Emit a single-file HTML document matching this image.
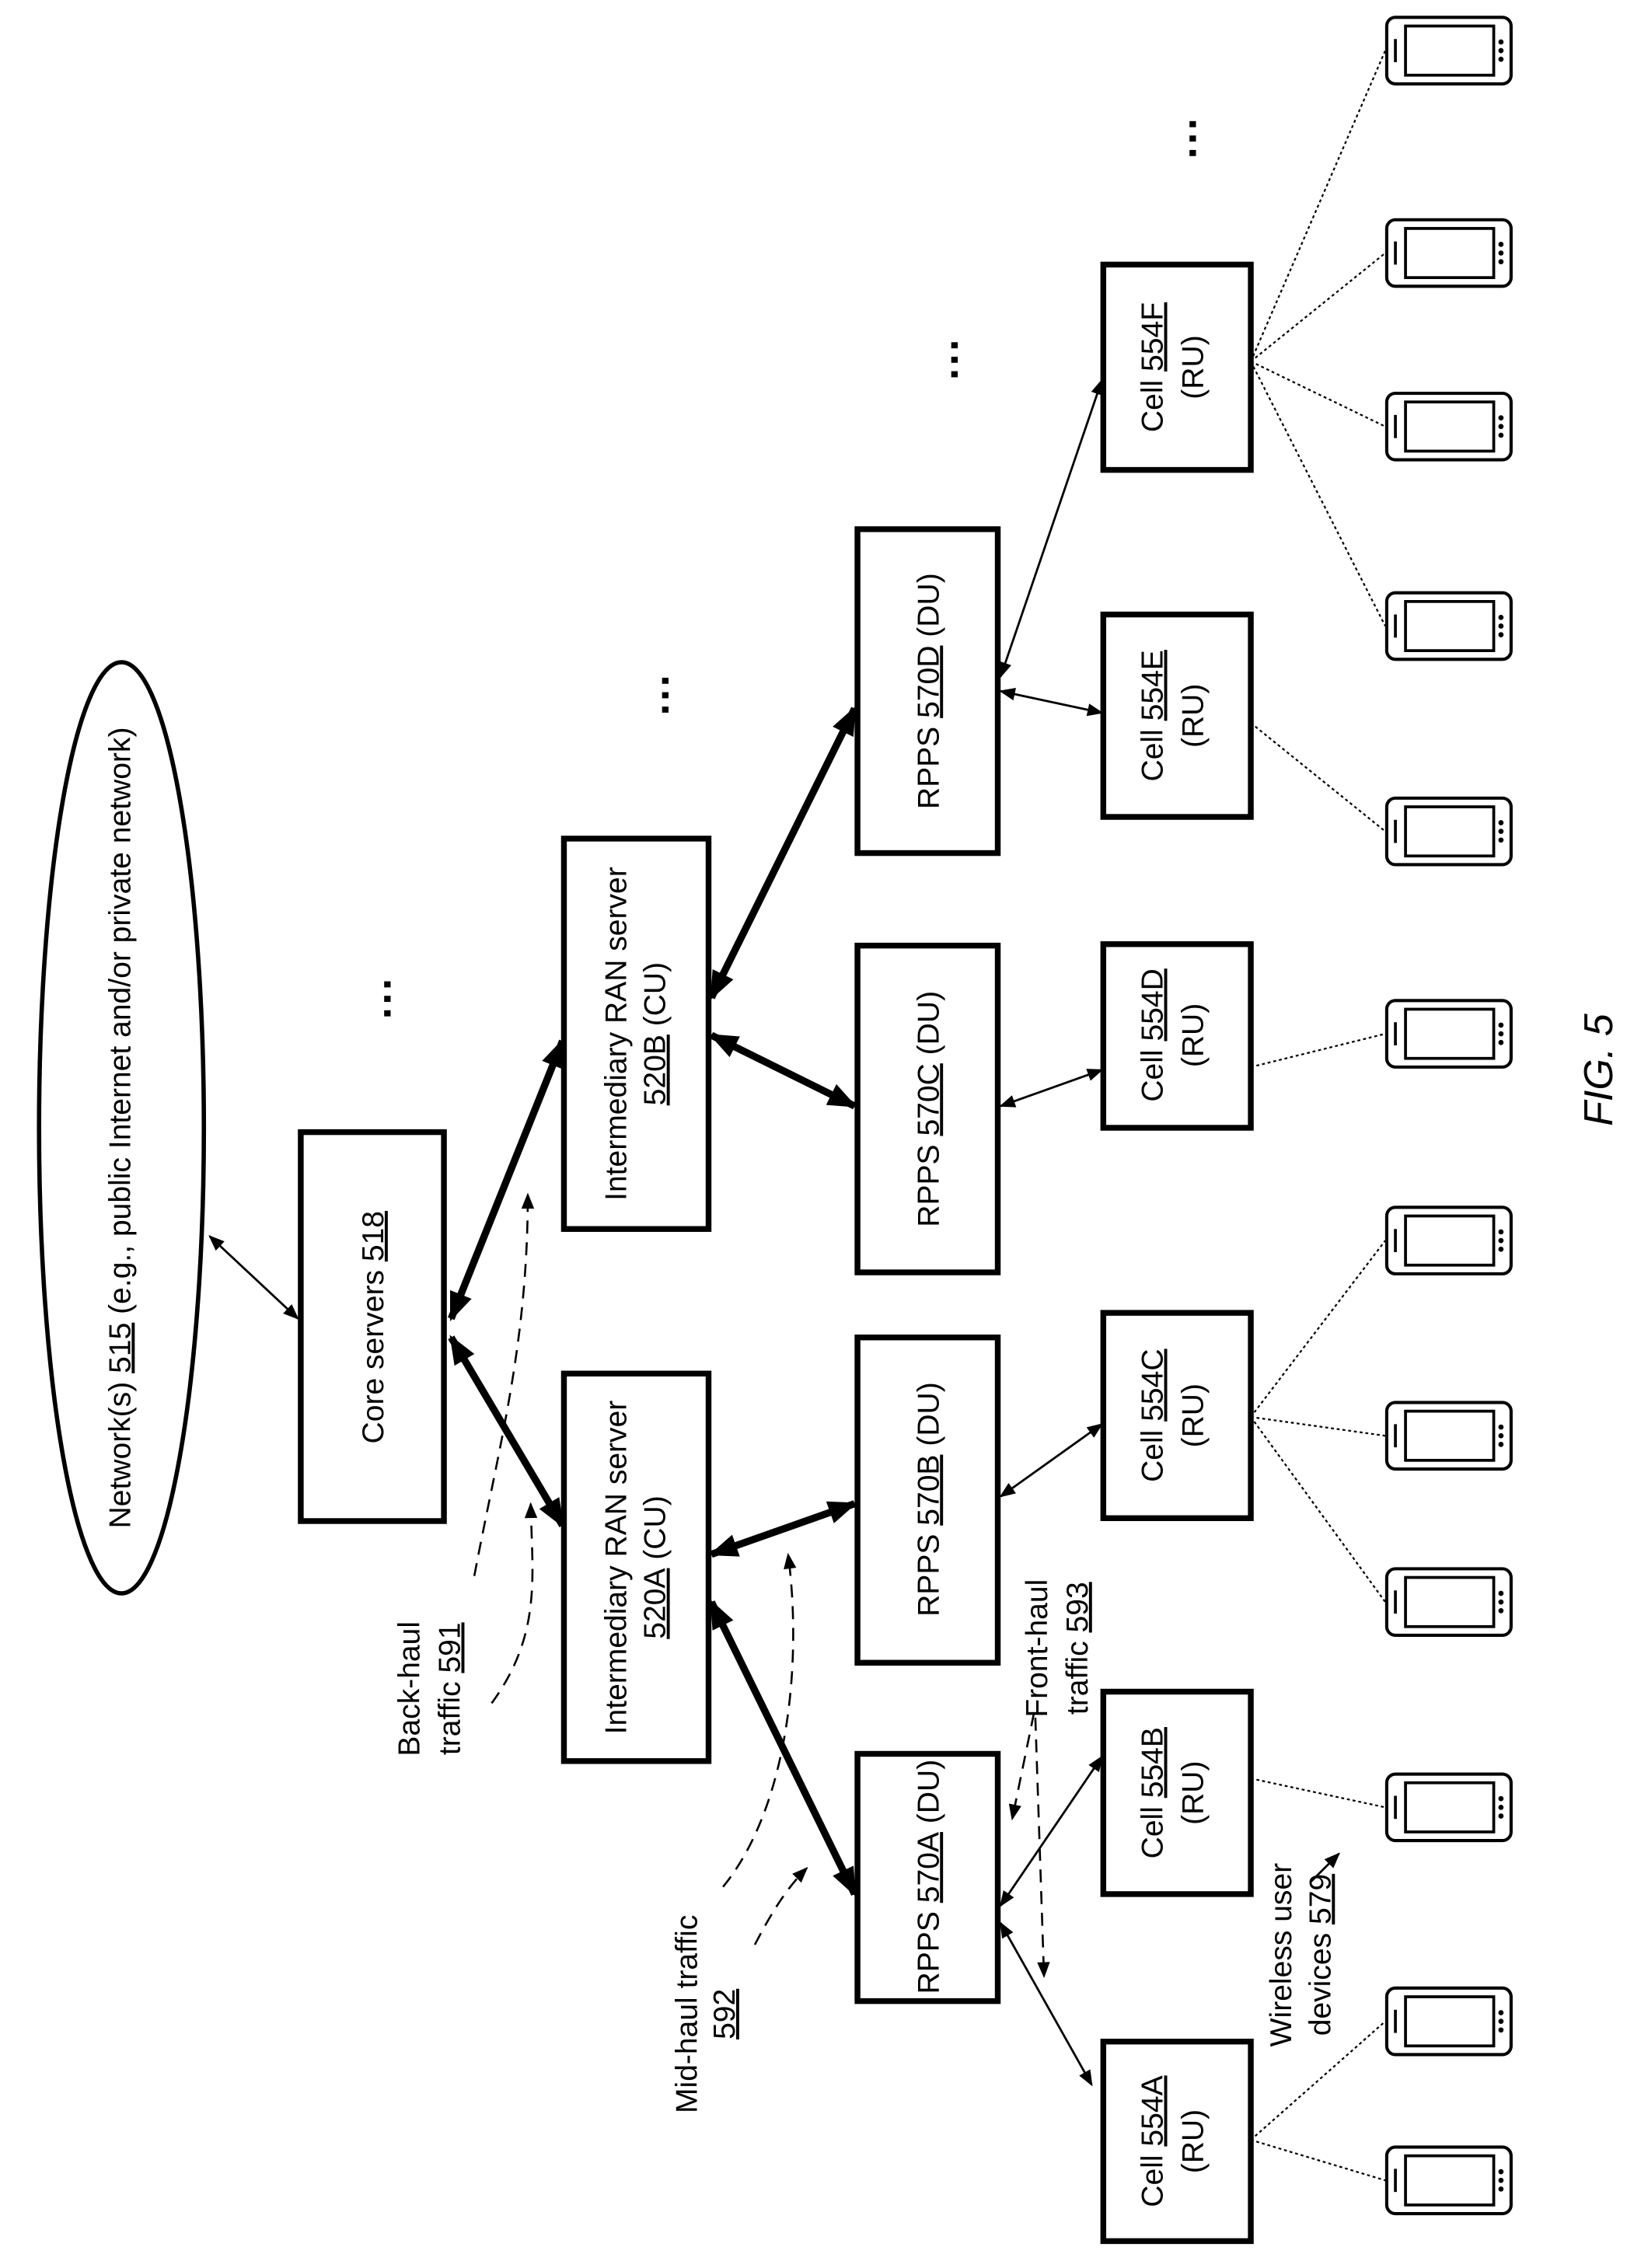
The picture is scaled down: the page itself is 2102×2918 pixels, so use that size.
<!DOCTYPE html>
<html><head><meta charset="utf-8"><style>html,body{margin:0;padding:0;background:#fff}svg{display:block}</style></head>
<body>
<svg width="2102" height="2918" viewBox="0 0 1130 1568.6" preserveAspectRatio="none" xmlns="http://www.w3.org/2000/svg" font-family="Liberation Sans, Arial, sans-serif">
<defs>
<marker id="b" viewBox="0 0 10 10" refX="9" refY="5" markerWidth="15" markerHeight="11" orient="auto-start-reverse" markerUnits="userSpaceOnUse"><path d="M0,1 L10,5 L0,9 z" fill="#000"/></marker>
<marker id="c" viewBox="0 0 10 10" refX="9" refY="5" markerWidth="27" markerHeight="20" orient="auto-start-reverse" markerUnits="userSpaceOnUse"><path d="M0,1 L10,5 L0,9 z" fill="#000"/></marker>
<g id="ph"><rect x="-43" y="-23" width="86" height="46" rx="6" fill="#fff" stroke="#000" stroke-width="2.2"/><rect x="-30" y="-17" width="61" height="34" fill="none" stroke="#000" stroke-width="2"/><line x1="-37" y1="-8" x2="-37" y2="8" stroke="#000" stroke-width="2"/><circle cx="36" cy="-6" r="1.8"/><circle cx="36" cy="0" r="1.8"/><circle cx="36" cy="6" r="1.8"/></g>
</defs>
<g fill="none" stroke="#000">
<ellipse cx="84" cy="780" rx="57" ry="322" stroke-width="3"/>
<g stroke-width="4">
<rect x="208" y="783" width="99" height="269"/>
<rect x="390" y="950" width="100" height="268"/>
<rect x="390" y="580" width="100" height="270"/>
<rect x="593" y="1213" width="97" height="171"/>
<rect x="593" y="925" width="97" height="225"/>
<rect x="593" y="654" width="97" height="226"/>
<rect x="593" y="366" width="97" height="224"/>
<rect x="763" y="1412" width="102" height="138"/>
<rect x="763" y="1170" width="102" height="140"/>
<rect x="763" y="908" width="102" height="142"/>
<rect x="763" y="653" width="102" height="127"/>
<rect x="763" y="425" width="102" height="140"/>
<rect x="763" y="183" width="102" height="142"/>
</g>
<line x1="145" y1="855" x2="206" y2="912" stroke-width="1.5" marker-start="url(#b)" marker-end="url(#b)"/>
<g stroke-width="5">
<line x1="312" y1="912" x2="389" y2="720" marker-start="url(#c)" marker-end="url(#c)"/>
<line x1="312" y1="925" x2="389" y2="1055" marker-start="url(#c)" marker-end="url(#c)"/>
<line x1="492" y1="1108" x2="591" y2="1310" marker-start="url(#c)" marker-end="url(#c)"/>
<line x1="492" y1="1075" x2="591" y2="1040" marker-start="url(#c)" marker-end="url(#c)"/>
<line x1="492" y1="716" x2="591" y2="765" marker-start="url(#c)" marker-end="url(#c)"/>
<line x1="492" y1="690" x2="591" y2="490" marker-start="url(#c)" marker-end="url(#c)"/>
</g>
<g stroke-width="1.5">
<line x1="692" y1="1318" x2="762" y2="1215" marker-start="url(#b)" marker-end="url(#b)"/>
<line x1="692" y1="1330" x2="755" y2="1442" marker-start="url(#b)" marker-end="url(#b)"/>
<line x1="692" y1="1035" x2="762" y2="985" marker-start="url(#b)" marker-end="url(#b)"/>
<line x1="692" y1="765" x2="762" y2="740" marker-start="url(#b)" marker-end="url(#b)"/>
<line x1="692" y1="478" x2="762" y2="493" marker-start="url(#b)" marker-end="url(#b)"/>
<line x1="692" y1="468" x2="762" y2="263" marker-start="url(#b)" marker-end="url(#b)"/>
</g>
<g stroke-width="1.2" stroke-dasharray="2,2">
<line x1="865" y1="1480" x2="958" y2="1398"/><line x1="865" y1="1480" x2="958" y2="1508"/>
<line x1="865" y1="1230" x2="958" y2="1250"/>
<line x1="865" y1="980" x2="958" y2="858"/><line x1="865" y1="980" x2="958" y2="993"/><line x1="865" y1="980" x2="958" y2="1108"/>
<line x1="865" y1="738" x2="958" y2="715"/>
<line x1="865" y1="500" x2="958" y2="575"/>
<line x1="865" y1="250" x2="958" y2="35"/><line x1="865" y1="250" x2="958" y2="175"/><line x1="865" y1="250" x2="958" y2="295"/><line x1="865" y1="250" x2="958" y2="433"/>
</g>
<g stroke-width="1.4" stroke-dasharray="9,6">
<path d="M328,1090 C345,1000 365,930 365,826" marker-end="url(#b)"/>
<path d="M340,1178 C375,1130 368,1090 367,1040" marker-end="url(#b)"/>
<path d="M500,1305 C545,1250 555,1150 545,1075" marker-end="url(#b)"/>
<path d="M522,1345 C535,1320 545,1305 558,1292" marker-end="url(#b)"/>
<path d="M715,1185 L700,1258" marker-end="url(#b)"/>
<path d="M716,1188 L722,1367" marker-end="url(#b)"/>
</g>
<line x1="906" y1="1302" x2="926" y2="1282" stroke-width="1.5" marker-end="url(#b)"/>
</g>
<g fill="#000">
<use href="#ph" x="1002" y="35"/><use href="#ph" x="1002" y="175"/><use href="#ph" x="1002" y="295"/><use href="#ph" x="1002" y="433"/><use href="#ph" x="1002" y="575"/><use href="#ph" x="1002" y="715"/><use href="#ph" x="1002" y="858"/><use href="#ph" x="1002" y="993"/><use href="#ph" x="1002" y="1108"/><use href="#ph" x="1002" y="1250"/><use href="#ph" x="1002" y="1398"/><use href="#ph" x="1002" y="1508"/>
<g font-size="30" font-weight="bold" text-anchor="middle">
<text transform="translate(278,690) rotate(-90)">···</text>
<text transform="translate(470,480) rotate(-90)">···</text>
<text transform="translate(670,248) rotate(-90)">···</text>
<text transform="translate(835,95) rotate(-90)">···</text>
</g>
<g font-size="21" text-anchor="middle">
<text transform="translate(90,780) rotate(-90)">Network(s) <tspan text-decoration="underline">515</tspan> (e.g., public Internet and/or private network)</text>
<text transform="translate(265,918) rotate(-90)">Core servers <tspan text-decoration="underline">518</tspan></text>
<text transform="translate(433,1084) rotate(-90)">Intermediary RAN server</text>
<text transform="translate(460,1084) rotate(-90)"><tspan text-decoration="underline">520A</tspan> (CU)</text>
<text transform="translate(433,715) rotate(-90)">Intermediary RAN server</text>
<text transform="translate(460,715) rotate(-90)"><tspan text-decoration="underline">520B</tspan> (CU)</text>
<text transform="translate(649,1298) rotate(-90)">RPPS <tspan text-decoration="underline">570A</tspan> (DU)</text>
<text transform="translate(649,1037) rotate(-90)">RPPS <tspan text-decoration="underline">570B</tspan>  (DU)</text>
<text transform="translate(649,767) rotate(-90)">RPPS <tspan text-decoration="underline">570C</tspan> (DU)</text>
<text transform="translate(649,478) rotate(-90)">RPPS <tspan text-decoration="underline">570D</tspan> (DU)</text>
<text transform="translate(804,1481) rotate(-90)">Cell <tspan text-decoration="underline">554A</tspan></text><text transform="translate(832,1481) rotate(-90)">(RU)</text>
<text transform="translate(804,1240) rotate(-90)">Cell <tspan text-decoration="underline">554B</tspan></text><text transform="translate(832,1240) rotate(-90)">(RU)</text>
<text transform="translate(804,979) rotate(-90)">Cell <tspan text-decoration="underline">554C</tspan></text><text transform="translate(832,979) rotate(-90)">(RU)</text>
<text transform="translate(804,716) rotate(-90)">Cell <tspan text-decoration="underline">554D</tspan></text><text transform="translate(832,716) rotate(-90)">(RU)</text>
<text transform="translate(804,495) rotate(-90)">Cell <tspan text-decoration="underline">554E</tspan></text><text transform="translate(832,495) rotate(-90)">(RU)</text>
<text transform="translate(804,254) rotate(-90)">Cell <tspan text-decoration="underline">554F</tspan></text><text transform="translate(832,254) rotate(-90)">(RU)</text>
<text transform="translate(290,1168) rotate(-90)">Back-haul</text>
<text transform="translate(318,1168) rotate(-90)">traffic <tspan text-decoration="underline">591</tspan></text>
<text transform="translate(482,1393) rotate(-90)">Mid-haul traffic</text>
<text transform="translate(508,1393) rotate(-90)"><tspan text-decoration="underline">592</tspan></text>
<text transform="translate(724,1140) rotate(-90)">Front-haul</text>
<text transform="translate(752,1140) rotate(-90)">traffic <tspan text-decoration="underline">593</tspan></text>
<text transform="translate(893,1352) rotate(-90)">Wireless user</text>
<text transform="translate(920,1352) rotate(-90)">devices <tspan text-decoration="underline">579</tspan></text>
<text transform="translate(1115,740) rotate(-90)" font-size="28" font-style="italic">FIG. 5</text>
</g>
</g>
</svg>
</body></html>
